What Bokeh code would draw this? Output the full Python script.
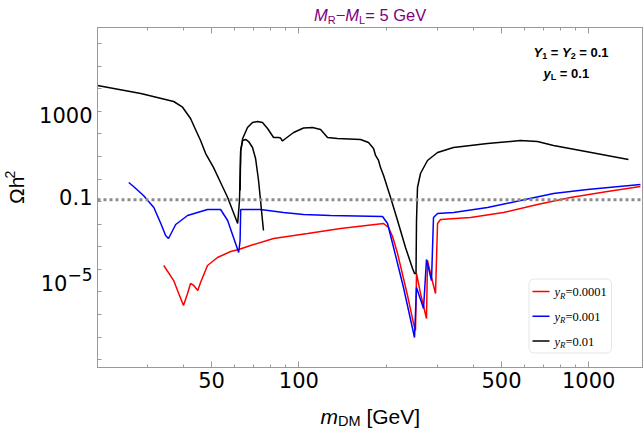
import math
from bokeh.plotting import figure
from bokeh.layouts import column, row
from bokeh.models import (FixedTicker, Label, BoxAnnotation, Arrow, Span, LogAxis,
                          CustomJSTickFormatter, Range1d)
from bokeh.embed import file_html
from bokeh.resources import INLINE

# ---------------- data ----------------
mass_red = [34.2, 37.0, 38.5, 40.0, 41.3, 42.3, 43.4, 44.8, 45.8, 48.4, 52.4, 58.2, 62.0,
            68.1, 81.8, 107.2, 139.3, 196.0, 203.9, 210.5, 219.0, 237.1, 248.7, 252.6,
            254.6, 262.8, 275.6, 277.8, 284.5, 296.1, 300.9, 308.1, 391.0, 507.9, 665.5,
            864.9, 1160, 1508]
omega_red = [1.49e-4, 3.2e-5, 8.6e-6, 2.53e-6, 8.6e-6, 2.38e-5, 1.94e-5, 1.16e-5, 2.63e-5,
             1.49e-4, 3.37e-4, 6.2e-4, 7.6e-4, 1.14e-3, 2.33e-3, 3.88e-3, 6.45e-3, 1.07e-2,
             7.14e-3, 2.86e-3, 5.06e-4, 7.0e-6, 4.0e-7, 1.98e-7, 6.6e-5, 8.6e-6, 6.7e-7,
             2.48e-4, 6.6e-5, 8.6e-6, 1.07e-2, 1.61e-2, 1.98e-2, 3.3e-2, 7.45e-2, 0.152,
             0.28, 0.466]

mass_blue = [25.9, 26.9, 29.1, 31.6, 33.4, 34.7, 35.5, 36.4, 37.6, 41.3, 48.4, 53.7, 56.8,
             59.5, 62.0, 62.7, 63.0, 73.8, 88.5, 103.8, 128.6, 194.4, 202.3, 212.2, 229.6,
             250.6, 254.6, 269.2, 275.6, 286.8, 291.4, 300.9, 341.6, 447.4, 581.6, 755.8,
             989.7, 1508]
omega_blue = [0.70, 0.466, 0.186, 0.0548, 0.0107, 0.00316, 0.00233, 0.0043, 0.0097, 0.0243,
              0.0447, 0.0447, 0.0146, 0.00258, 5.6e-4, 0.0019, 0.0447, 0.0447, 0.033, 0.0269,
              0.0243, 0.0219, 0.0107, 9.3e-4, 1.58e-5, 9.7e-8, 1.58e-5, 1.86e-6, 2.74e-4,
              3.2e-5, 0.0198, 0.0297, 0.033, 0.0548, 0.112, 0.228, 0.343, 0.57]

mass_black_a = [20.2, 28.5, 37.0, 39.7, 42.3, 44.0, 45.8, 47.7, 50.8, 53.7, 56.8, 59.1, 61.5,
                62.4, 63.0, 64.0, 65.5, 67.1, 69.2, 70.9, 72.6, 75.5]
omega_black_a = [1.37e4, 6070, 2690, 1500, 475, 155, 50.5, 13.4, 3.2, 0.70, 0.152, 0.0404,
                 0.0107, 0.112, 18.2, 50.5, 56, 45.6, 24.8, 8.1, 0.86, 0.00526]

mass_black_b = [62.7, 63.0, 64.0, 66.5, 69.2, 72.0, 74.9, 78.0, 81.8, 85.1, 86.5, 87.8, 90.0,
                95.9, 103.8, 111.5, 118.8, 125.6, 135.9, 163.2, 173.9, 181.0, 183.9, 188.3,
                191.3, 196.0, 207.2, 219.0, 233.3, 246.7, 250.6, 253.6, 254.6, 256.6, 262.8,
                277.8, 300.9, 341.6, 447.4, 581.6, 665.5, 755.8, 936.3, 1371]
omega_black_b = [0.31, 18.2, 62, 190, 316, 350, 316, 172, 68.6, 68.6, 65, 48, 62, 114, 181,
                 190, 155, 68.6, 62, 56, 41.2, 22.4, 11, 6.6, 3.2, 1.43, 0.152, 0.0146, 9.3e-4,
                 1.1e-4, 6.6e-5, 6.6e-5, 0.0146, 0.42, 1.75, 6.6, 14.9, 24.8, 37.2, 50.5, 45.6,
                 30.4, 18.2, 7.3]

PLANCK = 0.12
x_major = [50, 100, 500, 1000]
x_minor = [30, 40, 60, 70, 80, 90, 200, 300, 400, 600, 700, 800, 900]
y_major = [1e-5, 0.1, 1000]
y_major_text = {1e-5: ("10", "\u22125"), 0.1: ("0.1", ""), 1000: ("1000", "")}
y_minor = [1e-8, 1e-7, 1e-6, 1e-4, 1e-3, 1e-2, 1, 10, 100, 1e4, 1e5, 1e6]
legend_labels = ["0.0001", "0.001", "0.01"]
series_colors = ["#ff0000", "#0000ff", "#000000"]

# ---------------- layout geometry (page pixels) ----------------
PAGE_W, PAGE_H = 643, 429
TITLE_H = 25            # strip above the main plot
LEFT_W = 95             # strip left of the main plot
XLAB_H = 32             # strip below the main plot
MAIN_W = PAGE_W - LEFT_W
MAIN_H = PAGE_H - TITLE_H - XLAB_H
FL, FT, FR, FB = 97, 27, 643, 367   # frame in page pixels
X_RANGE = (20.2, 1545.0)
Y_RANGE = (4.56e-9, 5.06e6)
LX0, LX1 = math.log10(X_RANGE[0]), math.log10(X_RANGE[1])
LY0, LY1 = math.log10(Y_RANGE[0]), math.log10(Y_RANGE[1])
FW, FH = FR - FL, FB - FT

FRAME = "#999999"
TICKFONT = "DejaVu Sans"
SANS = "Liberation Sans"
SERIF = "Liberation Serif"
LIFT = {SANS: 0.28, SERIF: 0.28, TICKFONT: 0.0}   # baseline correction (em)

# ---------------- main figure ----------------
fig = figure(width=MAIN_W, height=MAIN_H, x_axis_type="log", y_axis_type="log",
             x_range=Range1d(*X_RANGE), y_range=Range1d(*Y_RANGE),
             output_backend="svg", toolbar_location=None,
             min_border_left=FL - LEFT_W, min_border_right=0,
             min_border_top=FT - TITLE_H, min_border_bottom=TITLE_H + MAIN_H - FB)
fig.xgrid.visible = False
fig.ygrid.visible = False
fig.outline_line_color = FRAME
fig.background_fill_color = "white"
fig.border_fill_color = "white"

fig.xaxis.ticker = FixedTicker(ticks=x_major, minor_ticks=x_minor)
fig.yaxis.ticker = FixedTicker(ticks=y_major, minor_ticks=y_minor)
for ax in (fig.xaxis[0], fig.yaxis[0]):
    ax.axis_line_color = FRAME
    ax.major_tick_line_color = FRAME
    ax.minor_tick_line_color = FRAME
    ax.major_tick_out = 0
    ax.minor_tick_out = 0
fig.xaxis.major_label_text_font = TICKFONT
fig.xaxis.major_label_text_font_size = "21px"
fig.xaxis.major_label_text_color = "black"
fig.xaxis.major_tick_in = 6
fig.xaxis.minor_tick_in = 3
fig.xaxis.major_label_standoff = 4
fig.xaxis.major_label_overrides = {50: "50", 100: "100", 500: "500", 1000: "1000"}
fig.yaxis.major_tick_in = 4
fig.yaxis.minor_tick_in = 4
fig.yaxis.formatter = CustomJSTickFormatter(code="return ''")
fig.yaxis.major_label_standoff = 0
fig.yaxis.major_label_text_font_size = "1px"

top = LogAxis(ticker=FixedTicker(ticks=x_major, minor_ticks=x_minor),
              formatter=CustomJSTickFormatter(code="return ''"),
              axis_line_color=FRAME, major_tick_line_color=FRAME, minor_tick_line_color=FRAME,
              major_tick_out=0, minor_tick_out=0, major_tick_in=6, minor_tick_in=3,
              major_label_standoff=0, major_label_text_font_size="1px")
fig.add_layout(top, "above")

fig.add_layout(Span(location=PLANCK, dimension="width", line_color="#8c8c8c",
                    line_dash="3 3", line_width=3))
fig.line(mass_red, omega_red, line_color=series_colors[0], line_width=1.5)
fig.line(mass_blue, omega_blue, line_color=series_colors[1], line_width=1.5)
fig.line(mass_black_a, omega_black_a, line_color=series_colors[2], line_width=1.5)
fig.line(mass_black_b, omega_black_b, line_color=series_colors[2], line_width=1.5)


def strip(w, h):
    f = figure(width=w, height=h, x_range=Range1d(0, w), y_range=Range1d(0, h),
               x_axis_location=None, y_axis_location=None, toolbar_location=None,
               output_backend="svg", min_border=0, min_border_left=0, min_border_right=0,
               min_border_top=0, min_border_bottom=0)
    f.title.visible = False
    f.xgrid.visible = False
    f.ygrid.visible = False
    f.outline_line_color = None
    f.background_fill_color = "white"
    f.border_fill_color = "white"
    return f


title_fig = strip(PAGE_W, TITLE_H)
left_fig = strip(LEFT_W, MAIN_H)
xlab_fig = strip(PAGE_W, XLAB_H)

# page offsets of each panel: (figure, left, top/bottom reference, height)
PANELS = {
    "title": (title_fig, 0, 0, TITLE_H),
    "left": (left_fig, 0, TITLE_H, MAIN_H),
    "xlab": (xlab_fig, 0, TITLE_H + MAIN_H, XLAB_H),
    "main": (fig, FL, FB, None),
}

ARIAL = {' ': 278, '[': 278, ']': 278, '=': 584, '\u2212': 584, '.': 278, 'G': 778, 'e': 556,
         'V': 667, 'M': 833, 'R': 722, 'L': 556, 'D': 722, 'm': 833, 'h': 556, '\u03a9': 768,
         'Y': 667, 'y': 500}
ARIAL_B = {' ': 278, '=': 584, '.': 278, 'Y': 667, 'y': 556, 'L': 611}
TIMES = {'y': 444, 'R': 611, '=': 564, '.': 250}
DEJAVU = {'\u2212': 838, '.': 318}


def width(text, size, table, digit=556):
    return sum(table.get(c, digit) for c in text) / 1000.0 * size


def put(panel, text, px, py, size, font, style="normal", color="black", angle=0.0,
        align="left"):
    lift = LIFT.get(font, 0.0) * size
    if angle:
        px -= lift
    else:
        py -= lift
    f, ox, oy, h = PANELS[panel]
    if panel == "main":
        x, y, units = px - ox, oy - py, "screen"
    else:
        x, y, units = px - ox, h - (py - oy), "data"
    f.add_layout(Label(x=x, y=y, x_units=units, y_units=units, text=text,
                       text_font=font, text_font_size=f"{size}px", text_font_style=style,
                       text_color=color, text_baseline="alphabetic", text_align=align,
                       angle=angle))


def rich(panel, x0, base, pieces, color="black"):
    x = x0
    for text, size, font, style, shift, table, digit in pieces:
        lead = len(text) - len(text.lstrip(' '))
        x += width(' ' * lead, size, table, digit)
        body = text.strip(' ')
        put(panel, body, x, base + shift, size, font, style, color)
        x += width(body, size, table, digit)
        trail = len(text) - len(text.rstrip(' '))
        x += width(' ' * trail, size, table, digit)


def page_y(v):
    return FT + (LY1 - math.log10(v)) / (LY1 - LY0) * FH


# title
rich("title", 313.5, 19, [("M", 16.5, SANS, "italic", 0, ARIAL, 556),
                          ("R", 11, SANS, "normal", 3.5, ARIAL, 556),
                          ("\u2212", 16.5, SANS, "normal", 0, ARIAL, 556),
                          ("M", 16.5, SANS, "italic", 0, ARIAL, 556),
                          ("L", 11, SANS, "normal", 3.5, ARIAL, 556),
                          ("= 5 GeV", 16.5, SANS, "normal", 0, ARIAL, 556)], color="#800080")

# y tick labels (left strip)
LABEL_RIGHT = 92
for v in y_major:
    base_txt, sup_txt = y_major_text[v]
    ty = page_y(v)
    if sup_txt:
        wsup = width(sup_txt, 17, DEJAVU, 636)
        put("left", sup_txt, LABEL_RIGHT, ty + 3.3, 17, TICKFONT, align="right")
        put("left", base_txt, LABEL_RIGHT - wsup, ty + 13, 21, TICKFONT, align="right")
    else:
        put("left", base_txt, LABEL_RIGHT, ty + 9.6, 21, TICKFONT, align="right")

# y axis title (rotated)
put("left", "\u03a9h", 21.5, 218, 21, SANS, angle=math.pi / 2)
put("left", "2", 13.5, 218 - width("\u03a9h", 21, ARIAL), 14, SANS, angle=math.pi / 2)

# x axis title
rich("xlab", 320, 422, [("m", 21, SANS, "italic", 0, ARIAL, 556),
                        ("DM", 14.5, SANS, "normal", 2.8, ARIAL, 556),
                        (" [GeV]", 21, SANS, "normal", 0, ARIAL, 556)])

# couplings annotation
rich("main", 533, 56, [("Y", 13, SANS, "bold italic", 0, ARIAL_B, 556),
                       ("1", 9, SANS, "bold", 2.5, ARIAL_B, 556),
                       (" = ", 13, SANS, "bold", 0, ARIAL_B, 556),
                       ("Y", 13, SANS, "bold italic", 0, ARIAL_B, 556),
                       ("2", 9, SANS, "bold", 2.5, ARIAL_B, 556),
                       (" = 0.1", 13, SANS, "bold", 0, ARIAL_B, 556)])
rich("main", 543, 76.5, [("y", 13, SANS, "bold italic", 0, ARIAL_B, 556),
                         ("L", 9, SANS, "bold", 2.5, ARIAL_B, 556),
                         (" = 0.1", 13, SANS, "bold", 0, ARIAL_B, 556)])


def dx(px):
    return 10 ** (LX0 + (px - FL) / FW * (LX1 - LX0))


def dy(py):
    return 10 ** (LY1 - (py - FT) / FH * (LY1 - LY0))


# legend
fig.add_layout(BoxAnnotation(left=dx(528.5), right=dx(611), top=dy(278.5), bottom=dy(352.5),
                             fill_color="white", fill_alpha=1.0, line_color="#a8a8a8",
                             line_width=1, border_radius=5))
for i, (lab, col) in enumerate(zip(legend_labels, series_colors)):
    yline = 291 + 24.8 * i
    fig.add_layout(Arrow(end=None, x_start=dx(532), y_start=dy(yline), x_end=dx(549),
                         y_end=dy(yline), line_color=col, line_width=1.5))
    rich("main", 554, yline + 4, [("y", 12.5, SERIF, "italic", 0, TIMES, 500),
                                  ("R", 8.75, SERIF, "italic", 2.5, TIMES, 500),
                                  ("=" + lab, 12.5, SERIF, "normal", 0, TIMES, 500)])

p = column(title_fig, row(left_fig, fig, spacing=0), xlab_fig, spacing=0)

open("out.html", "w").write(file_html(p, INLINE))
